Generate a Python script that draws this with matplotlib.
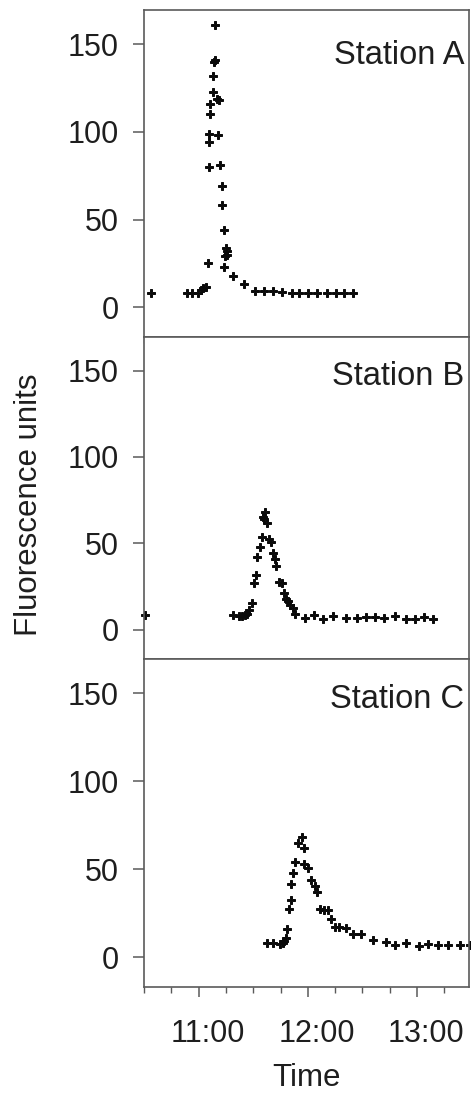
import matplotlib

matplotlib.use("Agg")
import matplotlib.pyplot as plt
import matplotlib.transforms as mtransforms
from matplotlib.ticker import FixedLocator, FuncFormatter, MultipleLocator

plt.rcParams["font.family"] = ["Liberation Sans", "DejaVu Sans"]

# time in minutes since midnight, fluorescence units
a_time = [633.8, 653.4, 656.2, 659.8, 661.3, 662.6, 663.9, 664.9, 665.7, 665.7,
          665.7, 666.4, 666.4, 667.7, 667.7, 668.4, 669.0, 669.0, 669.9, 671.0,
          670.8, 671.7, 672.8, 672.8, 674.1, 675.0, 675.7, 674.5, 675.4, 674.1,
          679.0, 684.9, 691.0, 695.9, 700.8, 705.9, 711.1, 715.1, 719.9, 725.1,
          730.3, 735.2, 739.9, 744.9]
a_fluo = [7.9, 7.9, 7.9, 7.9, 9.8, 10.7, 11.3, 25, 80, 94,
          99, 110, 116, 123, 132, 140, 141, 161, 119, 118,
          98, 81, 69, 58, 44, 34, 32, 29, 30, 23,
          18, 13, 9.4, 9.2, 9.2, 8.8, 7.9, 7.9, 7.9, 7.9,
          7.9, 7.9, 7.9, 7.9]

b_time = [630.5, 679.0, 682.3, 683.8, 685.3, 686.4, 687.6, 689.1, 690.5, 691.5,
          692.2, 693.7, 694.8, 695.3, 696.6, 696.0, 697.5, 698.9, 699.7, 701.0,
          701.9, 702.6, 703.9, 705.6, 706.9, 707.8, 709.2, 710.3, 711.6, 712.9,
          718.6, 723.5, 728.4, 733.6, 740.9, 746.8, 751.9, 757.0, 761.9, 768.0,
          773.7, 778.8, 783.9, 788.8]
b_fluo = [8.2, 8.2, 7.9, 7.9, 8.2, 9.0, 11.1, 15.5, 27, 31.8,
          41.8, 48.1, 53.8, 65.1, 68, 64.2, 61.9, 52.7, 50.7, 44.3,
          40.8, 36.6, 27.4, 26.8, 21.3, 17.8, 16.7, 14, 12.5, 9.2,
          6.7, 8.2, 6.3, 7.9, 6.9, 6.9, 7.1, 7.1, 6.7, 7.9,
          5.9, 6.3, 7.3, 6.3]

c_time = [697.4, 701.0, 704.7, 706.1, 706.9, 708.0, 708.7, 709.6, 710.7, 710.5,
          711.6, 712.7, 714.5, 716.9, 717.8, 717.8, 719.8, 721.8, 723.7, 724.8,
          726.8, 728.8, 730.9, 732.7, 734.9, 737.2, 740.9, 744.9, 749.0, 755.9,
          762.9, 768.0, 773.7, 781.0, 786.0, 791.3, 797.1, 803.5, 808.8]
c_fluo = [8.2, 7.9, 7.6, 8.2, 9.2, 11.1, 15.9, 27.4, 32.2, 41.8,
          48.1, 53.8, 64.8, 68.2, 61.9, 52.9, 50.4, 44.1, 40.4, 37,
          27.4, 26.8, 26.8, 21.7, 16.9, 16.9, 16.3, 13, 13, 9.6,
          8.8, 6.7, 8.2, 6.3, 7.6, 6.9, 6.9, 6.9, 6.9]

stations = ["Station A", "Station B", "Station C"]
series = [(a_time, a_fluo), (b_time, b_fluo), (c_time, c_fluo)]
y_ticks = [0, 50, 100, 150]
x_major = [660, 720, 780]

W, H = 471, 1095
fig = plt.figure(figsize=(W / 100, H / 100), dpi=100)
left, right = 144 / W, 469 / W
edges = [10, 337, 659, 987]
spine_col = "#5a5a5a"
txt_col = "#1e1e1e"
label_y = [0.862, 0.876, 0.875]

axes = []
for i, name in enumerate(stations):
    top, bot = edges[i], edges[i + 1]
    ax = fig.add_axes([left, 1 - bot / H, right - left, (bot - top) / H])
    t, v = series[i]
    ax.plot(t, v, linestyle="none", marker="P", ms=5.8, color="#0a0a0a",
            mec="#0a0a0a", mew=0.7, clip_on=False)
    ax.set_xlim(630, 808.5)
    ax.set_ylim(-17, 169.5)
    ax.set_yticks(y_ticks)
    for s in ax.spines.values():
        s.set_color(spine_col)
        s.set_linewidth(1.2)
    ax.tick_params(axis="y", direction="out", length=8, width=1.1,
                   color=spine_col, labelsize=22, labelcolor=txt_col, pad=10)
    ax.xaxis.set_major_locator(FixedLocator(x_major))
    ax.xaxis.set_minor_locator(MultipleLocator(15))
    ax.tick_params(axis="x", which="major", direction="out", length=7,
                   width=1.1, color=spine_col)
    ax.tick_params(axis="x", which="minor", direction="out", length=4,
                   width=1.0, color=spine_col)
    if i == 1:
        ax.tick_params(axis="x", which="both", length=0)
    ax.text(0.985, label_y[i], name, transform=ax.transAxes, ha="right",
            va="center", fontsize=23.5, color=txt_col)
    if i < 2:
        ax.set_xticklabels([])
    axes.append(ax)

ax = axes[-1]
ax.xaxis.set_major_formatter(FuncFormatter(lambda x, p: f"{int(x // 60)}:{int(x % 60):02d}"))
ax.tick_params(axis="x", labelsize=22, labelcolor=txt_col, pad=16)
offset = mtransforms.ScaledTranslation(9 / 100, 0, fig.dpi_scale_trans)
for lab in ax.get_xticklabels():
    lab.set_transform(lab.get_transform() + offset)

fig.text((left + right) / 2, 1 - 1078 / H, "Time", ha="center", va="center",
         fontsize=22.5, color=txt_col)
fig.text(29 / W, 1 - 505 / H, "Fluorescence units", rotation=90, ha="center",
         va="center", fontsize=22.5, color=txt_col)

fig.savefig("out.png", dpi=100)
